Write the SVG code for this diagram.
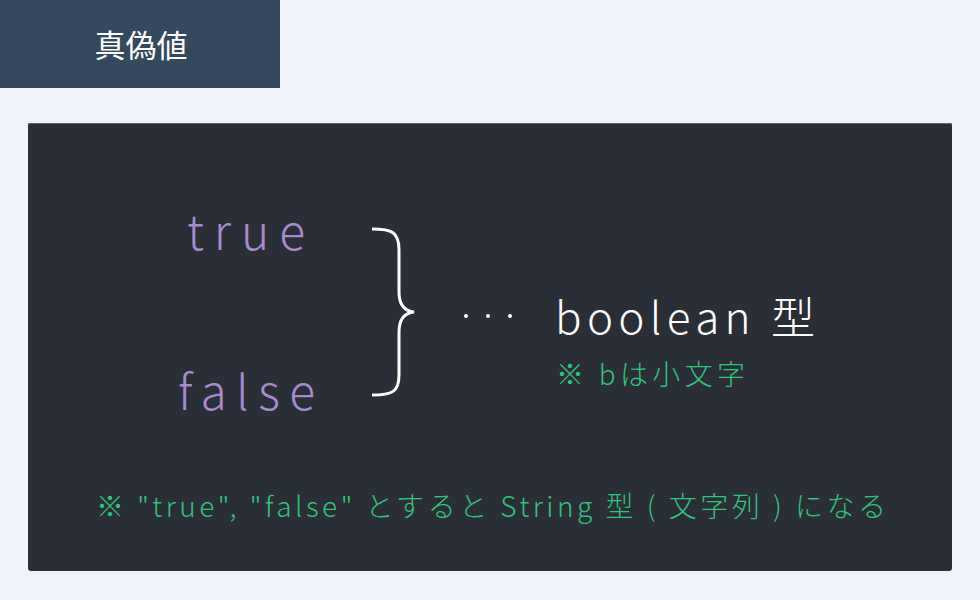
<svg xmlns="http://www.w3.org/2000/svg" width="980" height="600" viewBox="0 0 980 600">
<style>
.t{font-family:"Noto Sans CJK JP","Noto Sans",sans-serif;font-weight:300}
.w{fill:#ffffff}
.p{fill:#a68bd1}
.g{fill:#2fc47b}
</style>
<rect width="980" height="600" fill="#eff3fb"/>
<g id="header">
<rect x="0" y="0" width="280" height="88" fill="#34495e"/>
<text class="t w" x="141" y="57" font-size="31" text-anchor="middle" style="font-weight:400">真偽値</text>
</g>
<g id="panel">
<rect x="28" y="123" width="924" height="448" rx="3" fill="#2a2e36"/>
<line x1="28" y1="123.5" x2="952" y2="123.5" stroke="#5d6470" stroke-width="1"/>
</g>
<g id="true">
<text class="t p" x="187" y="250" font-size="48" textLength="118" lengthAdjust="spacing">true</text>
</g>
<g id="false">
<text class="t p" x="178" y="410" font-size="48" textLength="137" lengthAdjust="spacing">false</text>
</g>
<g id="connectors">
<path d="M372,229 C392,229 399,232 399,250 L399,292 C399,305 405,311 414,312 C405,313 399,319 399,332 L399,375 C399,392 392,395 372,395" fill="none" stroke="#ffffff" stroke-width="3"/>
</g>
<g id="dots">
<circle cx="466" cy="316" r="2" fill="#ffffff"/>
<circle cx="488" cy="316" r="2" fill="#ffffff"/>
<circle cx="510" cy="316" r="2" fill="#ffffff"/>
</g>
<g id="boolean">
<text class="t w" x="555" y="334" font-size="44" textLength="260" lengthAdjust="spacing">boolean 型</text>
<text class="t g" x="556" y="385" font-size="28" textLength="189" lengthAdjust="spacing">※ bは小文字</text>
</g>
<g id="note">
<text class="t g" x="96" y="517" font-size="28" textLength="790" lengthAdjust="spacing">※ "true", "false" とすると String 型 ( 文字列 ) になる</text>
</g>
</svg>
